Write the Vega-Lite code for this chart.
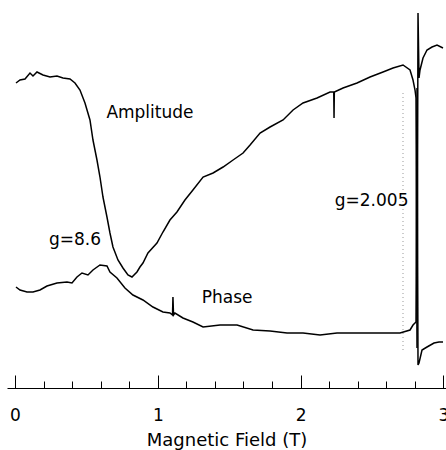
{
  "$schema": "https://vega.github.io/schema/vega-lite/v6.json",
  "width": 439,
  "height": 388,
  "autosize": {"type": "none"},
  "padding": {"left": 7, "right": 0, "top": 0, "bottom": 62},
  "background": "white",
  "view": {"stroke": null},
  "config": {"font": "DejaVu Sans"},
  "resolve": {"axis": {"x": "independent"}},
  "datasets": {
    "traces": [
      {"series": "Amplitude", "B": 0.007, "signal": 305},
      {"series": "Amplitude", "B": 0.035, "signal": 308},
      {"series": "Amplitude", "B": 0.070, "signal": 309},
      {"series": "Amplitude", "B": 0.105, "signal": 315},
      {"series": "Amplitude", "B": 0.126, "signal": 312},
      {"series": "Amplitude", "B": 0.154, "signal": 316},
      {"series": "Amplitude", "B": 0.196, "signal": 313},
      {"series": "Amplitude", "B": 0.245, "signal": 311},
      {"series": "Amplitude", "B": 0.294, "signal": 312},
      {"series": "Amplitude", "B": 0.336, "signal": 310},
      {"series": "Amplitude", "B": 0.385, "signal": 309},
      {"series": "Amplitude", "B": 0.420, "signal": 305},
      {"series": "Amplitude", "B": 0.455, "signal": 298},
      {"series": "Amplitude", "B": 0.490, "signal": 285},
      {"series": "Amplitude", "B": 0.525, "signal": 268},
      {"series": "Amplitude", "B": 0.546, "signal": 248},
      {"series": "Amplitude", "B": 0.574, "signal": 228},
      {"series": "Amplitude", "B": 0.595, "signal": 211},
      {"series": "Amplitude", "B": 0.616, "signal": 191},
      {"series": "Amplitude", "B": 0.644, "signal": 171},
      {"series": "Amplitude", "B": 0.665, "signal": 155},
      {"series": "Amplitude", "B": 0.686, "signal": 141},
      {"series": "Amplitude", "B": 0.721, "signal": 128},
      {"series": "Amplitude", "B": 0.756, "signal": 120},
      {"series": "Amplitude", "B": 0.791, "signal": 113},
      {"series": "Amplitude", "B": 0.819, "signal": 111},
      {"series": "Amplitude", "B": 0.854, "signal": 116},
      {"series": "Amplitude", "B": 0.875, "signal": 121},
      {"series": "Amplitude", "B": 0.896, "signal": 125},
      {"series": "Amplitude", "B": 0.931, "signal": 135},
      {"series": "Amplitude", "B": 0.994, "signal": 145},
      {"series": "Amplitude", "B": 1.036, "signal": 156},
      {"series": "Amplitude", "B": 1.085, "signal": 168},
      {"series": "Amplitude", "B": 1.134, "signal": 176},
      {"series": "Amplitude", "B": 1.190, "signal": 188},
      {"series": "Amplitude", "B": 1.246, "signal": 198},
      {"series": "Amplitude", "B": 1.317, "signal": 211},
      {"series": "Amplitude", "B": 1.387, "signal": 215},
      {"series": "Amplitude", "B": 1.457, "signal": 221},
      {"series": "Amplitude", "B": 1.527, "signal": 228},
      {"series": "Amplitude", "B": 1.597, "signal": 235},
      {"series": "Amplitude", "B": 1.646, "signal": 243},
      {"series": "Amplitude", "B": 1.716, "signal": 255},
      {"series": "Amplitude", "B": 1.786, "signal": 261},
      {"series": "Amplitude", "B": 1.877, "signal": 268},
      {"series": "Amplitude", "B": 1.947, "signal": 278},
      {"series": "Amplitude", "B": 2.017, "signal": 285},
      {"series": "Amplitude", "B": 2.115, "signal": 290},
      {"series": "Amplitude", "B": 2.206, "signal": 296},
      {"series": "Amplitude", "B": 2.232, "signal": 296},
      {"series": "Amplitude", "B": 2.234, "signal": 270},
      {"series": "Amplitude", "B": 2.236, "signal": 296},
      {"series": "Amplitude", "B": 2.297, "signal": 300},
      {"series": "Amplitude", "B": 2.395, "signal": 305},
      {"series": "Amplitude", "B": 2.486, "signal": 311},
      {"series": "Amplitude", "B": 2.577, "signal": 316},
      {"series": "Amplitude", "B": 2.647, "signal": 320},
      {"series": "Amplitude", "B": 2.717, "signal": 323},
      {"series": "Amplitude", "B": 2.766, "signal": 318},
      {"series": "Amplitude", "B": 2.787, "signal": 308},
      {"series": "Amplitude", "B": 2.801, "signal": 298},
      {"series": "Amplitude", "B": 2.808, "signal": 290},
      {"series": "Amplitude", "B": 2.815, "signal": 40},
      {"series": "Amplitude", "B": 2.822, "signal": 375},
      {"series": "Amplitude", "B": 2.829, "signal": 310},
      {"series": "Amplitude", "B": 2.836, "signal": 318},
      {"series": "Amplitude", "B": 2.857, "signal": 330},
      {"series": "Amplitude", "B": 2.885, "signal": 338},
      {"series": "Amplitude", "B": 2.920, "signal": 341},
      {"series": "Amplitude", "B": 2.955, "signal": 343},
      {"series": "Amplitude", "B": 2.997, "signal": 340},
      {"series": "Phase", "B": 0.007, "signal": 101},
      {"series": "Phase", "B": 0.035, "signal": 98},
      {"series": "Phase", "B": 0.084, "signal": 96},
      {"series": "Phase", "B": 0.126, "signal": 96},
      {"series": "Phase", "B": 0.175, "signal": 98},
      {"series": "Phase", "B": 0.224, "signal": 102},
      {"series": "Phase", "B": 0.294, "signal": 105},
      {"series": "Phase", "B": 0.364, "signal": 106},
      {"series": "Phase", "B": 0.399, "signal": 105},
      {"series": "Phase", "B": 0.434, "signal": 111},
      {"series": "Phase", "B": 0.469, "signal": 115},
      {"series": "Phase", "B": 0.511, "signal": 113},
      {"series": "Phase", "B": 0.546, "signal": 118},
      {"series": "Phase", "B": 0.595, "signal": 123},
      {"series": "Phase", "B": 0.644, "signal": 122},
      {"series": "Phase", "B": 0.665, "signal": 116},
      {"series": "Phase", "B": 0.714, "signal": 110},
      {"series": "Phase", "B": 0.770, "signal": 100},
      {"series": "Phase", "B": 0.826, "signal": 93},
      {"series": "Phase", "B": 0.896, "signal": 88},
      {"series": "Phase", "B": 0.966, "signal": 81},
      {"series": "Phase", "B": 1.036, "signal": 76},
      {"series": "Phase", "B": 1.085, "signal": 75},
      {"series": "Phase", "B": 1.103, "signal": 73},
      {"series": "Phase", "B": 1.106, "signal": 91},
      {"series": "Phase", "B": 1.110, "signal": 73},
      {"series": "Phase", "B": 1.120, "signal": 75},
      {"series": "Phase", "B": 1.176, "signal": 70},
      {"series": "Phase", "B": 1.246, "signal": 66},
      {"series": "Phase", "B": 1.317, "signal": 61},
      {"series": "Phase", "B": 1.436, "signal": 63},
      {"series": "Phase", "B": 1.555, "signal": 63},
      {"series": "Phase", "B": 1.667, "signal": 58},
      {"series": "Phase", "B": 1.786, "signal": 57},
      {"series": "Phase", "B": 1.905, "signal": 55},
      {"series": "Phase", "B": 2.017, "signal": 55},
      {"series": "Phase", "B": 2.136, "signal": 53},
      {"series": "Phase", "B": 2.255, "signal": 55},
      {"series": "Phase", "B": 2.367, "signal": 55},
      {"series": "Phase", "B": 2.486, "signal": 55},
      {"series": "Phase", "B": 2.605, "signal": 55},
      {"series": "Phase", "B": 2.696, "signal": 55},
      {"series": "Phase", "B": 2.766, "signal": 58},
      {"series": "Phase", "B": 2.787, "signal": 63},
      {"series": "Phase", "B": 2.808, "signal": 66},
      {"series": "Phase", "B": 2.815, "signal": 300},
      {"series": "Phase", "B": 2.822, "signal": 23},
      {"series": "Phase", "B": 2.829, "signal": 25},
      {"series": "Phase", "B": 2.850, "signal": 38},
      {"series": "Phase", "B": 2.885, "signal": 41},
      {"series": "Phase", "B": 2.934, "signal": 45},
      {"series": "Phase", "B": 2.969, "signal": 46},
      {"series": "Phase", "B": 2.997, "signal": 46}
    ],
    "labels": [
      {"B": 0.945, "signal": 270.5, "text": "Amplitude"},
      {"B": 0.420, "signal": 143.5, "text": "g=8.6"},
      {"B": 1.485, "signal": 85, "text": "Phase"},
      {"B": 2.497, "signal": 182, "text": "g=2.005"}
    ],
    "marker": [
      {"B": 2.717, "top": 295, "bottom": 38}
    ]
  },
  "layer": [
    {
      "data": {"name": "marker"},
      "mark": {"type": "rule", "color": "#999999", "strokeWidth": 1, "strokeDash": [1, 3]},
      "encoding": {
        "x": {
          "field": "B",
          "type": "quantitative",
          "scale": {"domain": [-0.056, 3.018], "nice": false, "zero": false},
          "axis": {
            "orient": "bottom",
            "title": null,
            "values": [0.2, 0.4, 0.6, 0.8, 1.2, 1.4, 1.6, 1.8, 2.2, 2.4, 2.6, 2.8],
            "labels": false,
            "domain": false,
            "grid": false,
            "tickSize": -7,
            "tickColor": "black",
            "tickWidth": 1
          }
        },
        "y": {"field": "top", "type": "quantitative", "scale": {"domain": [0, 388], "nice": false, "zero": false}, "axis": null},
        "y2": {"field": "bottom"}
      }
    },
    {
      "data": {"name": "traces"},
      "mark": {"type": "line", "color": "black", "strokeWidth": 1.5, "interpolate": "linear"},
      "encoding": {
        "x": {
          "field": "B",
          "type": "quantitative",
          "scale": {"domain": [-0.056, 3.018], "nice": false, "zero": false},
          "axis": {
            "orient": "bottom",
            "title": "Magnetic Field (T)",
            "values": [0, 1, 2, 3],
            "format": "d",
            "tickSize": -13,
            "tickColor": "black",
            "tickWidth": 1,
            "domainColor": "black",
            "domainWidth": 1,
            "grid": false,
            "labelFont": "DejaVu Sans",
            "labelFontSize": 17,
            "labelColor": "black",
            "labelPadding": 32,
            "labelBaseline": "top",
            "labelFlush": false,
            "labelOverlap": false,
            "titleFont": "DejaVu Sans",
            "titleFontSize": 18,
            "titleFontWeight": "normal",
            "titleColor": "black",
            "titlePadding": 8
          }
        },
        "y": {
          "field": "signal",
          "type": "quantitative",
          "scale": {"domain": [0, 388], "nice": false, "zero": false},
          "axis": null
        },
        "detail": {"field": "series"}
      }
    },
    {
      "data": {"name": "labels"},
      "mark": {"type": "text", "font": "DejaVu Sans", "fontSize": 17, "color": "black", "align": "center", "baseline": "alphabetic"},
      "encoding": {
        "x": {"field": "B", "type": "quantitative", "axis": null},
        "y": {"field": "signal", "type": "quantitative", "axis": null},
        "text": {"field": "text"}
      }
    }
  ]
}
